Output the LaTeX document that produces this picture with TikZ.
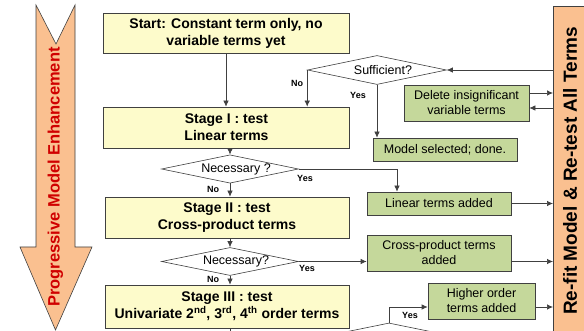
\documentclass[tikz,border=0pt]{standalone}
\usepackage{fontspec}
\setmainfont{Liberation Sans}
\usetikzlibrary{shapes.geometric,arrows.meta}
\definecolor{ybox}{HTML}{FDFBCB}
\definecolor{gbox}{HTML}{C5D89B}
\definecolor{peach}{HTML}{FAC090}
\definecolor{redtxt}{HTML}{D00000}
\definecolor{edge}{HTML}{404040}
\begin{document}
\begin{tikzpicture}[x=1pt,y=-1pt,
  stagebox/.style={draw=edge, line width=0.7pt, fill=ybox, minimum width=246pt, minimum height=41pt, align=center, inner sep=0pt, font=\bfseries\fontsize{14}{17}\selectfont},
  greenbox/.style={draw=edge, line width=0.7pt, fill=gbox, align=center, inner sep=0pt, font=\fontsize{12.5}{15}\selectfont},
  decision/.style={diamond, draw=edge, line width=0.6pt, fill=white, aspect=4.8, minimum width=137pt, minimum height=28pt, inner sep=0pt, font=\fontsize{12.5}{15}\selectfont},
  arr/.style={draw=edge, line width=0.7pt, -{Latex[length=6pt,width=5.5pt]}},
  lbl/.style={font=\bfseries\fontsize{9}{10}\selectfont, inner sep=0pt}]
\useasboundingbox (0,0) rectangle (584,331);
\clip (0,0) rectangle (584,331);
\fill[white] (0,0) rectangle (584,331);

% left arrow
\path[draw=edge, line width=0.6pt, fill=peach] (36,5) -- (56,44) -- (75,5) -- (75,247) -- (92,247) -- (55.5,330) -- (20,247) -- (36,247) -- cycle;
\node[rotate=90, text=redtxt, inner sep=0pt, font=\bfseries\fontsize{16.5}{18}\selectfont] (leftlbl) at (55.5,177) {Progressive Model Enhancement};

% right bar
\node[draw=edge, line width=0.7pt, fill=peach, minimum width=45pt, minimum height=340pt, anchor=north west, inner sep=0pt] (bar) at (553,6) {};
\node[rotate=90, inner sep=0pt, font=\bfseries\fontsize{19}{21}\selectfont] (bartext) at (570,171) {Re-fit Model \& Re-test All Terms};

% stage boxes
\node[stagebox, minimum height=40pt] (start) at (226,33) {Start: Constant term only, no\\variable terms yet};
\node[stagebox] (s1) at (226.5,127.5) {Stage I : test\\Linear terms};
\node[stagebox, minimum width=244pt] (s2) at (227,217.5) {Stage II : test\\Cross-product terms};
\node[stagebox, minimum width=244pt, minimum height=43pt] (s3) at (227,306.5) {Stage III : test\\Univariate 2\textsuperscript{nd}, 3\textsuperscript{rd}, 4\textsuperscript{th} order terms};

% decisions
\node[decision, minimum width=139pt, minimum height=29pt] (suff) at (377,70) {\hspace{12pt}Sufficient?};
\node[decision] (nec1) at (230,169) {\hspace{12pt}Necessary ?};
\node[decision] (nec2) at (230,261.5) {\hspace{12pt}Necessary?};
\node[decision] (bd) at (389,337) {};

% green boxes
\node[greenbox, minimum width=125pt, minimum height=36pt] (del) at (466.5,103) {Delete insignificant\\variable terms};
\node[greenbox, minimum width=144pt, minimum height=23pt] (model) at (445,149.5) {Model selected; done.};
\node[greenbox, minimum width=144pt, minimum height=23pt] (lin) at (439,203.5) {Linear terms added};
\node[greenbox, minimum width=144pt, minimum height=36pt] (cross) at (439,253) {Cross-product terms\\added};
\node[greenbox, minimum width=107pt, minimum height=36pt] (high) at (481.5,301) {Higher order\\terms added};

% connectors
\draw[arr] (start.south) -- (start.south |- s1.north);
\draw[arr] (suff.west) -- (suff.west |- s1.north);
\draw[arr] (suff.south) -- (suff.south |- model.north);
\draw[arr] (suff.east -| bar.west) -- (suff.east);
\draw[arr] ([yshift=10pt]del.east) -- ([yshift=10pt]del.east -| bar.west);
\draw[arr] ([yshift=-5pt]del.east -| bar.west) -- ([yshift=-5pt]del.east);
\draw[arr] (s1.south -| nec1.north) -- (nec1.north);
\draw[arr] (nec1.south) -- (nec1.south |- s2.north);
\draw[arr] (nec1.east) -| ([xshift=-42pt]lin.north);
\draw[arr] (lin.east) -- (lin.east -| bar.west);
\draw[arr] (s2.south -| nec2.north) -- (nec2.north);
\draw[arr] (nec2.south) -- (nec2.south |- s3.north);
\draw[arr] (nec2.east) -- (nec2.east -| cross.west);
\draw[arr] (nec2.east -| cross.east) -- (nec2.east -| bar.west);
\draw[arr] ([yshift=-6pt]high.east) -- ([yshift=-6pt]high.east -| bar.west);
\draw[arr] (bd.north) |- ([yshift=-6pt]high.west);
\coordinate (s3out) at (230,345);
\draw[draw=edge, line width=0.7pt] (s3.south -| s3out) -- (s3out);

% labels
\node[lbl] (l1) at (297,83) {No};
\node[lbl] (l2) at (358,95) {Yes};
\node[lbl] (l3) at (305,178) {Yes};
\node[lbl] (l4) at (213,189) {No};
\node[lbl] (l5) at (307,268) {Yes};
\node[lbl] (l6) at (213,279) {No};
\node[lbl] (l7) at (410,315) {Yes};
\end{tikzpicture}
\end{document}
